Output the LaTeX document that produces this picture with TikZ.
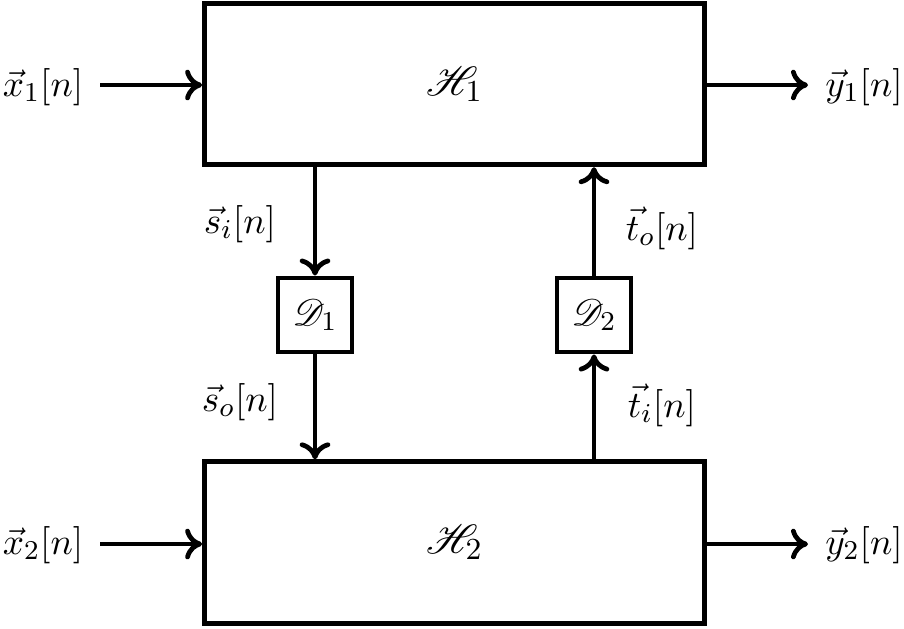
\documentclass[tikz,border=0pt]{standalone}
\usepackage{mathrsfs}
\usetikzlibrary{arrows.meta}
\begin{document}
\begin{tikzpicture}[x=0.294pt,y=-0.294pt,
  font=\fontsize{11.3}{14}\selectfont,
  blk/.style={draw,line width=1.4pt,minimum width=147pt,minimum height=47.5pt,inner sep=0pt,font=\fontsize{13}{15}\selectfont},
  dly/.style={draw,line width=1.4pt,minimum size=21.8pt,inner sep=0pt},
  sig/.style={line width=1.4pt,-{To[length=5pt,width=9pt]}},
  lbl/.style={inner sep=0pt}]
\useasboundingbox (0,0) rectangle (904,628);
\node[blk] (H1) at (454.5,84) {$\mathscr{H}_1$};
\node[blk] (H2) at (454.5,542.5) {$\mathscr{H}_2$};
\node[dly] (D1) at (315,315) {$\mathscr{D}_1$};
\node[dly] (D2) at (594,315) {$\mathscr{D}_2$};
\node[lbl] (x1) at (43,87) {$\vec{x}_1[n]$};
\node[lbl] (x2) at (43,545) {$\vec{x}_2[n]$};
\node[lbl] (y1) at (864,87) {$\vec{y}_1[n]$};
\node[lbl] (y2) at (864,545) {$\vec{y}_2[n]$};
\node[lbl] (si) at (240,224) {$\vec{s}_i[n]$};
\node[lbl] (so) at (240,402) {$\vec{s}_o[n]$};
\node[lbl] (to) at (662,228) {$\vec{t}_o[n]$};
\node[lbl] (ti) at (662,405) {$\vec{t}_i[n]$};
\coordinate (x1e) at (100,85);
\coordinate (x2e) at (100,544);
\coordinate (y1e) at (808,85);
\coordinate (y2e) at (808,544);
\draw[sig] (x1e) -- (H1.west |- x1e);
\draw[sig] (x2e) -- (H2.west |- x2e);
\draw[sig] (H1.east |- y1e) -- (y1e);
\draw[sig] (H2.east |- y2e) -- (y2e);
\draw[sig] (H1.south -| D1) -- (D1.north);
\draw[sig] (D1.south) -- (H2.north -| D1);
\draw[sig] (H2.north -| D2) -- (D2.south);
\draw[sig] (D2.north) -- (H1.south -| D2);
\end{tikzpicture}
\end{document}
